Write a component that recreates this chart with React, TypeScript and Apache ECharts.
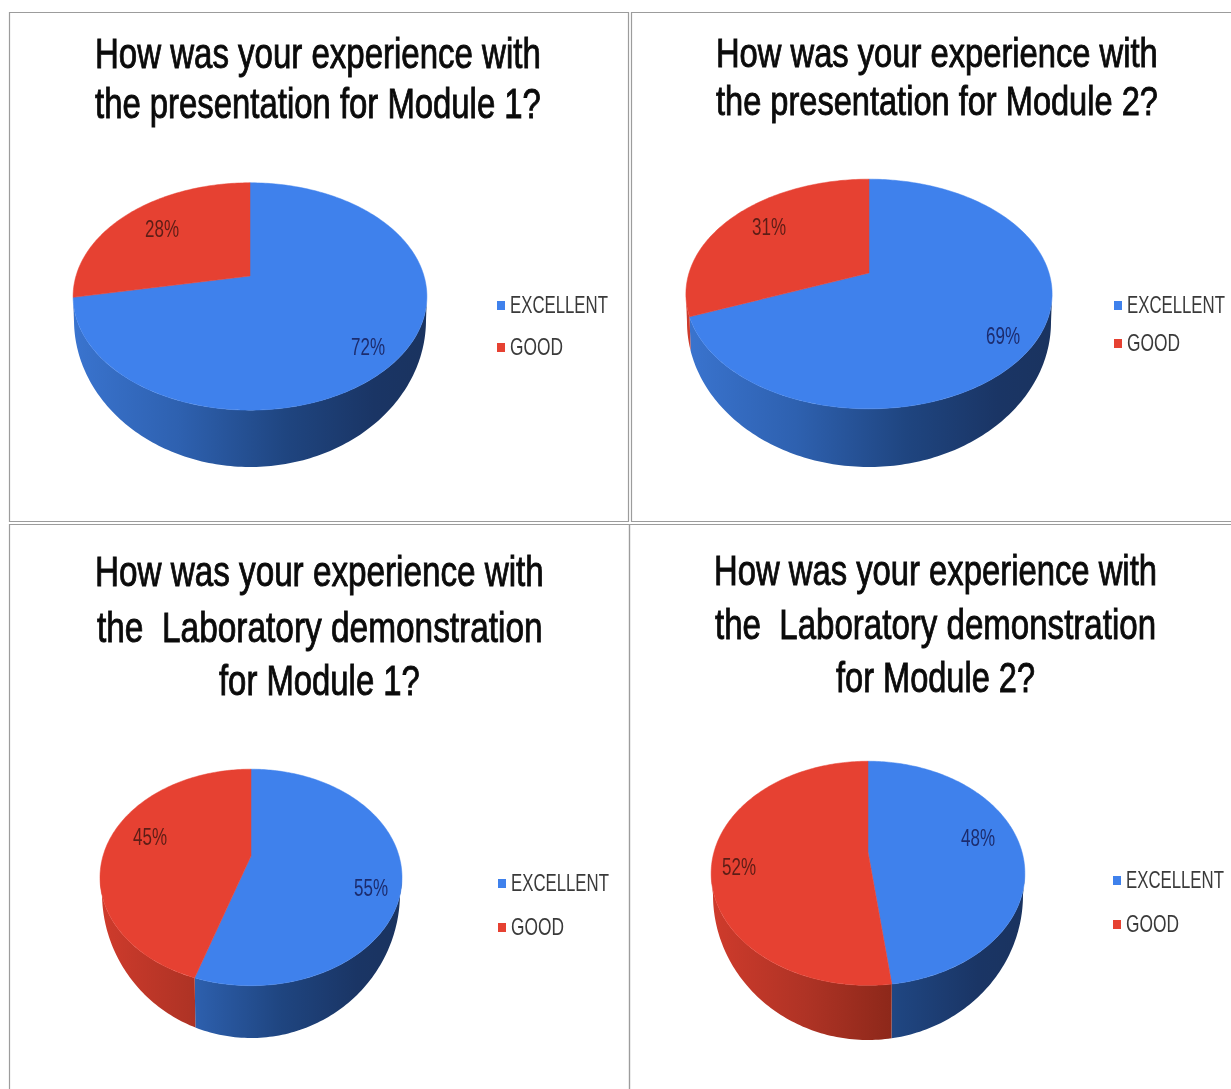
import React, { useEffect, useRef } from "react";
import * as echarts from "echarts";

const W = 1231;
const H = 1089;

const categories = ["EXCELLENT", "GOOD"];
const excellentShares = [72, 69, 55, 48];
const goodShares = [28, 31, 45, 52];
const titles = [
  ["How was your experience with", "the presentation for Module 1?"],
  ["How was your experience with", "the presentation for Module 2?"],
  ["How was your experience with", "the  Laboratory demonstration", "for Module 1?"],
  ["How was your experience with", "the  Laboratory demonstration", "for Module 2?"],
];

const COLORS = ["#3F81EC", "#E64132"];
const WALL_STOPS = [
  [
    [0, "#3A74CF"],
    [0.3, "#2E61B0"],
    [0.6, "#1F4580"],
    [0.85, "#1A3565"],
    [1, "#1A335F"],
  ],
  [
    [0, "#CF3B2C"],
    [0.3, "#AF3325"],
    [0.6, "#8A2719"],
    [0.85, "#7A2015"],
    [1, "#701D13"],
  ],
];
const LABEL_COLORS = ["#1C2C6E", "#5C1D16"];

// apex and projective radii of the top face; lrx/lcy/lry describe the lower rim
const pies = [
  { ax: 250, ay: 276, rx: 174, ry: 110, k: 0.18, lrx: 176, lcy: 320, lry: 147 },
  { ax: 869, ay: 273, rx: 180, ry: 111, k: 0.183, lrx: 182, lcy: 322, lry: 145 },
  { ax: 251, ay: 856, rx: 148, ry: 104, k: 0.198, lrx: 149, lcy: 893, lry: 145 },
  { ax: 868, ay: 852, rx: 154, ry: 108, k: 0.19, lrx: 155, lcy: 895, lry: 145 },
];
const labelPos = [
  [[368, 346], [162, 228]],
  [[1003, 335], [769, 226]],
  [[371, 887], [150, 836]],
  [[978, 837], [739, 866]],
];
const legendPos = [
  { sq: 497, tx: 510, ys: [305, 347] },
  { sq: 1114, tx: 1127, ys: [305, 343] },
  { sq: 498, tx: 511, ys: [883, 927] },
  { sq: 1113, tx: 1126, ys: [880, 924] },
];
// [left, right, baseline, font size] for each title line
const titleBoxes = [
  [[95, 541, 69, 42], [95, 541, 119, 42]],
  [[716, 1158, 67, 41], [716, 1158, 115, 41]],
  [[95, 544, 586, 43], [97, 543, 642, 43], [219, 420, 695, 43]],
  [[714, 1157, 585, 43], [715, 1156, 639, 43], [836, 1035, 692, 43]],
];
const frames = [
  [9, 12, 628, 521],
  [631, 12, 1240, 521],
  [9, 524, 629, 1100],
  [629, 524, 1240, 1100],
];

const FONT = '"Liberation Sans", Arial, sans-serif';
const measureCtx = document.createElement("canvas").getContext("2d") as CanvasRenderingContext2D;
function fitScale(text: string, size: number, width: number) {
  measureCtx.font = `${size}px ${FONT}`;
  return width / measureCtx.measureText(text).width;
}

type Pie = (typeof pies)[number];
function project(p: Pie, deg: number) {
  const t = (deg * Math.PI) / 180;
  const X = Math.sin(t);
  const Y = -Math.cos(t);
  const w = 1 - p.k * Y;
  return [(X * p.rx) / w, (Y * p.ry) / w];
}
const upper = (p: Pie, deg: number) => {
  const [x, y] = project(p, deg);
  return [p.ax + x, p.ay + y];
};
const lower = (p: Pie, deg: number) => {
  const [x] = project(p, deg);
  const ext = p.rx / Math.sqrt(1 - p.k * p.k);
  const dx = (x / ext) * p.lrx;
  const r = Math.min(1, Math.abs(dx) / p.lrx);
  return [p.ax + dx, p.lcy + p.lry * Math.sqrt(1 - r * r)];
};
function sweep(a: number, b: number) {
  const out: number[] = [];
  const n = Math.max(1, Math.ceil(b - a));
  for (let i = 0; i <= n; i++) out.push(a + ((b - a) * i) / n);
  return out;
}

function makeRenderItem(pieIndex: number) {
  const p = pies[pieIndex];
  return (params: any, api: any) => {
    const start = (api.value(0) as number) * 3.6;
    const share = api.value(1) as number;
    const end = start + share * 3.6;
    const idx = params.dataIndex;
    const children: any[] = [];

    // Only the part of the rim that faces the viewer gets a wall.
    const tangent = (Math.acos(-p.k) * 180) / Math.PI;
    const a = Math.max(start, tangent);
    const b = Math.min(end, 360 - tangent);
    if (b > a) {
      const angles = sweep(a, b);
      const points = [
        ...angles.map((d) => upper(p, d)),
        ...angles.slice().reverse().map((d) => lower(p, d)),
      ];
      const x0 = p.ax - p.rx * 1.02;
      const x1 = p.ax + p.rx * 1.02;
      children.push({
        type: "polygon",
        z2: 1,
        shape: { points },
        style: {
          fill: new echarts.graphic.LinearGradient(
            x0,
            0,
            x1,
            0,
            WALL_STOPS[idx].map(([offset, color]) => ({ offset, color })) as any,
            true
          ),
        },
      });
    }

    children.push({
      type: "polygon",
      z2: 2,
      shape: { points: [[p.ax, p.ay], ...sweep(start, end).map((d) => upper(p, d))] },
      style: { fill: COLORS[idx], stroke: COLORS[idx], lineWidth: 0.5 },
    });

    const label = `${share}%`;
    const [lx, ly] = labelPos[pieIndex][idx];
    children.push({
      type: "text",
      z2: 3,
      x: lx,
      y: ly,
      scaleX: fitScale(label, 24, 34),
      style: {
        text: label,
        font: `24px ${FONT}`,
        fill: LABEL_COLORS[idx],
        align: "center",
        verticalAlign: "middle",
      },
    });
    return { type: "group", children };
  };
}

export default function App() {
  const ref = useRef<HTMLDivElement>(null);
  useEffect(() => {
    const chart = echarts.init(ref.current as HTMLDivElement, undefined, { renderer: "svg" });
    const graphics: any[] = [];

    frames.forEach(([x0, y0, x1, y1]) => {
      graphics.push({
        type: "rect",
        silent: true,
        shape: { x: x0 + 0.5, y: y0 + 0.5, width: x1 - x0, height: y1 - y0 },
        style: { fill: "none", stroke: "#9C9C9C", lineWidth: 1.2 },
      });
    });

    titles.forEach((lines, i) => {
      lines.forEach((line, j) => {
        const [left, right, base, size] = titleBoxes[i][j];
        graphics.push({
          type: "text",
          silent: true,
          x: left,
          y: base - size * 0.86,
          scaleX: fitScale(line, size, right - left),
          style: {
            text: line,
            font: `${size}px ${FONT}`,
            fill: "#0A0A0A",
            stroke: "#0A0A0A",
            lineWidth: 0.9,
            align: "left",
            verticalAlign: "top",
          },
        });
      });
    });

    legendPos.forEach((lg) => {
      categories.forEach((name, c) => {
        const y = lg.ys[c];
        graphics.push({
          type: "rect",
          silent: true,
          shape: { x: lg.sq, y: y - 4, width: 8, height: 9 },
          style: { fill: COLORS[c] },
        });
        graphics.push({
          type: "text",
          silent: true,
          x: lg.tx,
          y,
          scaleX: fitScale(name, 23, c === 0 ? 98 : 53),
          style: {
            text: name,
            font: `23px ${FONT}`,
            fill: "#3A3A3A",
            align: "left",
            verticalAlign: "middle",
          },
        });
      });
    });

    chart.setOption({
      animation: false,
      backgroundColor: "#FFFFFF",
      graphic: graphics,
      series: excellentShares.map((value, i) => ({
        type: "custom",
        coordinateSystem: "none",
        silent: true,
        renderItem: makeRenderItem(i),
        data: [
          [0, value],
          [value, goodShares[i]],
        ],
      })),
    });
    return () => chart.dispose();
  }, []);
  return (
    <div
      ref={ref}
      style={{
        position: "fixed",
        left: 0,
        top: 0,
        width: W,
        height: H,
        background: "#fff",
        filter: "blur(0.4px)",
      }}
    />
  );
}
